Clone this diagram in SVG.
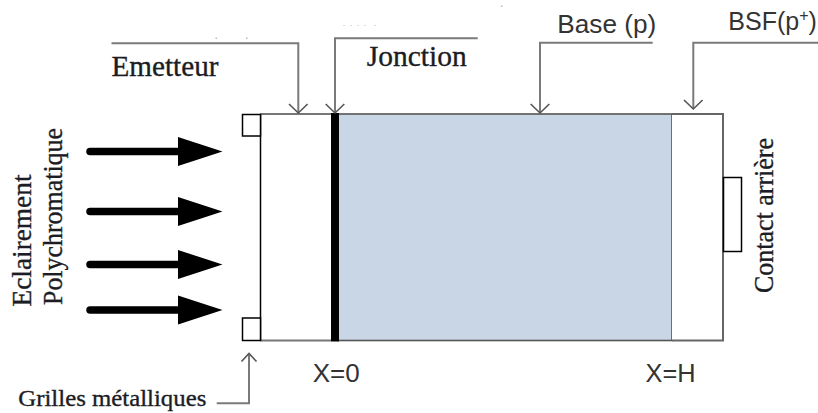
<svg xmlns="http://www.w3.org/2000/svg" width="818" height="413" viewBox="0 0 818 413">
<style>
.serif{font-family:"Liberation Serif","DejaVu Serif",serif;fill:#1c1c24;stroke:#1c1c24;stroke-width:0.35}
.sans{font-family:"Liberation Sans",Arial,sans-serif;fill:#333}
.lead{fill:none;stroke:#7a7a7a;stroke-width:2}
.ah{fill:none;stroke:#555;stroke-width:1.6}
.light{stroke:#000;stroke-width:7.5;stroke-linecap:round}
</style>
<rect width="818" height="413" fill="#fff"/>

<g id="base">
<rect x="338" y="114" width="334" height="226.5" fill="#c9d6e6" stroke="#555" stroke-width="1.6"/>
</g>
<g id="emetteur">
<line x1="260" y1="114" x2="331" y2="114" stroke="#777" stroke-width="2"/>
<line x1="260" y1="340.5" x2="331" y2="340.5" stroke="#777" stroke-width="2"/>
<line x1="260.5" y1="114" x2="260.5" y2="341" stroke="#000" stroke-width="1.5"/>
</g>
<g id="jonction">
<rect x="331" y="113" width="8" height="228.5" fill="#000"/>
</g>
<g id="bsf">
<path d="M672,114 H723 V340.5 H672" fill="#fff" stroke="#666" stroke-width="2"/>
</g>
<g id="grilles">
<rect x="242.5" y="114.5" width="18" height="21.5" fill="#fff" stroke="#000" stroke-width="1.5"/>
<rect x="242.5" y="318" width="18" height="22.5" fill="#fff" stroke="#000" stroke-width="1.5"/>
</g>
<g id="contact">
<rect x="723.5" y="177.5" width="18" height="74" fill="#fff" stroke="#000" stroke-width="1.5"/>
</g>

<g id="eclairement">
<line class="light" x1="90" y1="151.5" x2="180" y2="151.5"/>
<path d="M178,137 L222.5,151.5 L178,166 Z"/>
<line class="light" x1="90" y1="211.5" x2="180" y2="211.5"/>
<path d="M178,197 L222.5,211.5 L178,226 Z"/>
<line class="light" x1="90" y1="264.5" x2="180" y2="264.5"/>
<path d="M178,250 L222.5,264.5 L178,279 Z"/>
<line class="light" x1="90" y1="310" x2="180" y2="310"/>
<path d="M178,295.5 L222.5,310 L178,324.5 Z"/>
<text class="serif" font-size="28" transform="translate(31,306.5) rotate(-90)" textLength="132" lengthAdjust="spacingAndGlyphs">Eclairement</text>
<text class="serif" font-size="28" transform="translate(62,305) rotate(-90)" textLength="177" lengthAdjust="spacingAndGlyphs">Polychromatique</text>
</g>

<g id="connectors">
<path class="lead" d="M111.5,43.3 H298.3 V112"/>
<path class="ah" d="M289,104 L298.3,113 L307.6,104"/>
<path class="lead" d="M477.7,38.3 H335 V112"/>
<path class="ah" d="M325.7,104 L335,113 L344.3,104"/>
<path class="lead" d="M652.7,42.7 H540 V112"/>
<path class="ah" d="M530.7,104 L540,113 L549.3,104"/>
<path class="lead" d="M818,42.7 H693.3 V108"/>
<path class="ah" d="M684,100 L693.3,109 L702.6,100"/>
<path class="lead" d="M216.7,403.3 H249 V355"/>
<path class="ah" d="M241.5,361.5 L249,353.5 L256.5,361.5"/>
</g>

<g id="labels">
<text class="serif" x="111.5" y="76" font-size="30" textLength="107" lengthAdjust="spacingAndGlyphs">Emetteur</text>
<text class="serif" x="366.7" y="66" font-size="30" textLength="100" lengthAdjust="spacingAndGlyphs">Jonction</text>
<text class="sans" x="557.3" y="33" font-size="25" textLength="99" lengthAdjust="spacingAndGlyphs">Base (p)</text>
<text class="sans" x="728.3" y="30" font-size="25">BSF(p<tspan font-size="16" dy="-9">+</tspan><tspan dy="9">)</tspan></text>
<text class="sans" x="312.7" y="381.7" font-size="25.5" textLength="47" lengthAdjust="spacingAndGlyphs">X=0</text>
<text class="sans" x="645.5" y="381.7" font-size="25.5" textLength="50" lengthAdjust="spacingAndGlyphs">X=H</text>
<text class="serif" x="18.3" y="406" font-size="24" textLength="188" lengthAdjust="spacingAndGlyphs">Grilles métalliques</text>
<text class="serif" font-size="27" transform="translate(773,293) rotate(-90)" textLength="155" lengthAdjust="spacingAndGlyphs">Contact arrière</text>
</g>

<g id="specks" fill="#bbb">
<rect x="215.5" y="37.5" width="1.5" height="1.5"/>
<rect x="246" y="37.5" width="1.5" height="1.5"/>
<rect x="343" y="25" width="2" height="1" fill="#ddd"/>
<rect x="350" y="25" width="2" height="1" fill="#ddd"/>
<rect x="357" y="25" width="2" height="1" fill="#ddd"/>
<rect x="364" y="25" width="2" height="1" fill="#ddd"/>
<rect x="374" y="25" width="2" height="1" fill="#ddd"/>
<rect x="501" y="5.5" width="1.5" height="1.5"/>
</g>
</svg>
